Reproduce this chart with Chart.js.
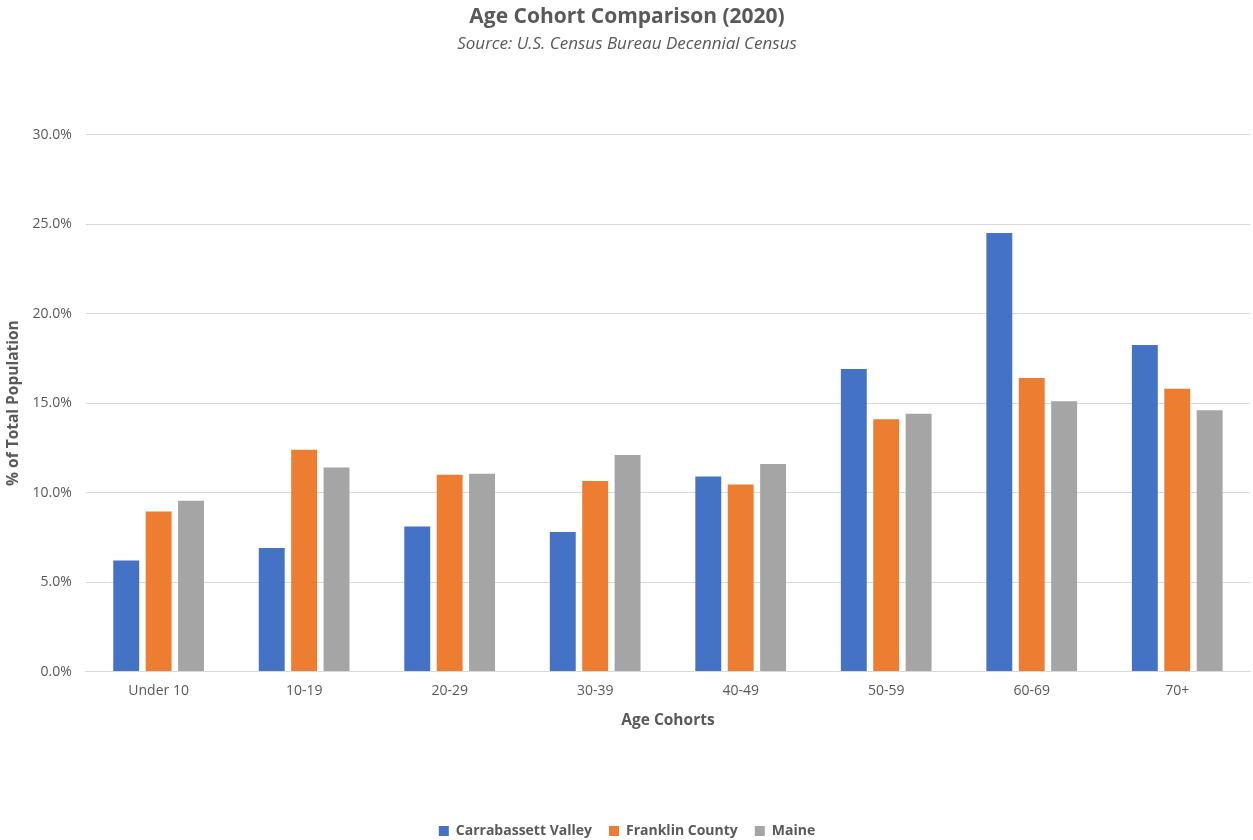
<!DOCTYPE html>
<html>
<head>
<meta charset="utf-8">
<script src="https://cdn.jsdelivr.net/npm/chart.js@4.4.1/dist/chart.umd.min.js"></script>
<style>
  html, body { margin: 0; padding: 0; background: #ffffff; }
  #wrap { width: 1253px; height: 840px; position: relative; }
</style>
</head>
<body>
<div id="wrap"><canvas id="c" width="1253" height="840"></canvas></div>
<script>
const categories = ["Under 10", "10-19", "20-29", "30-39", "40-49", "50-59", "60-69", "70+"];
const carrabassettValley = [6.2, 6.9, 8.1, 7.8, 10.9, 16.9, 24.5, 18.25];
const franklinCounty = [8.95, 12.4, 11.0, 10.65, 10.45, 14.1, 16.4, 15.8];
const maine = [9.55, 11.4, 11.05, 12.1, 11.6, 14.4, 15.1, 14.6];
const seriesNames = ["Carrabassett Valley", "Franklin County", "Maine"];
const seriesColors = ["#4472C4", "#ED7D31", "#A5A5A5"];
const yTicks = [0, 5, 10, 15, 20, 25, 30];

const FONT = "'Open Sans', 'Noto Sans', sans-serif";
const TXT = "#595959";

const data = {
  labels: categories,
  datasets: [carrabassettValley, franklinCounty, maine].map((vals, i) => ({
    label: seriesNames[i],
    data: vals,
    backgroundColor: seriesColors[i],
    borderWidth: 0,
    categoryPercentage: 0.668,
    barPercentage: 0.8
  }))
};

new Chart(document.getElementById('c'), {
  type: 'bar',
  data: data,
  options: {
    responsive: false,
    animation: false,
    layout: { padding: { left: 4, right: 3, top: 0, bottom: -8 } },
    plugins: {
      title: {
        display: true,
        text: "Age Cohort Comparison (2020)",
        color: TXT,
        font: { family: FONT, size: 21, weight: 'bold' },
        padding: { top: 4, bottom: 2 }
      },
      subtitle: {
        display: true,
        text: "Source: U.S. Census Bureau Decennial Census",
        color: TXT,
        font: { family: FONT, size: 17, style: 'italic' },
        padding: { top: 3, bottom: 80 }
      },
      legend: {
        position: 'bottom',
        labels: {
          color: TXT,
          font: { family: FONT, size: 14, weight: 'bold' },
          boxWidth: 10,
          boxHeight: 10,
          padding: 17
        }
      },
      tooltip: { enabled: false }
    },
    scales: {
      x: {
        grid: { display: false },
        border: { display: true, color: '#D9D9D9', width: 1 },
        ticks: { color: TXT, font: { family: FONT, size: 14 }, padding: 3 },
        title: {
          display: true,
          text: "Age Cohorts",
          color: TXT,
          font: { family: FONT, size: 15.5, weight: 'bold' },
          padding: { top: 9, bottom: 77 }
        }
      },
      y: {
        min: 0,
        max: 30,
        afterBuildTicks: (axis) => { axis.ticks = yTicks.map(v => ({ value: v })); },
        grid: { color: '#D9D9D9', lineWidth: 1, drawTicks: false },
        border: { display: false },
        ticks: {
          color: TXT,
          font: { family: FONT, size: 14 },
          padding: 14,
          callback: (v) => Number(v).toFixed(1) + '%'
        },
        title: {
          display: true,
          text: "% of Total Population",
          color: TXT,
          font: { family: FONT, size: 15.5, weight: 'bold' },
          padding: { top: 0, bottom: -4 }
        }
      }
    }
  }
});
</script>
</body>
</html>
